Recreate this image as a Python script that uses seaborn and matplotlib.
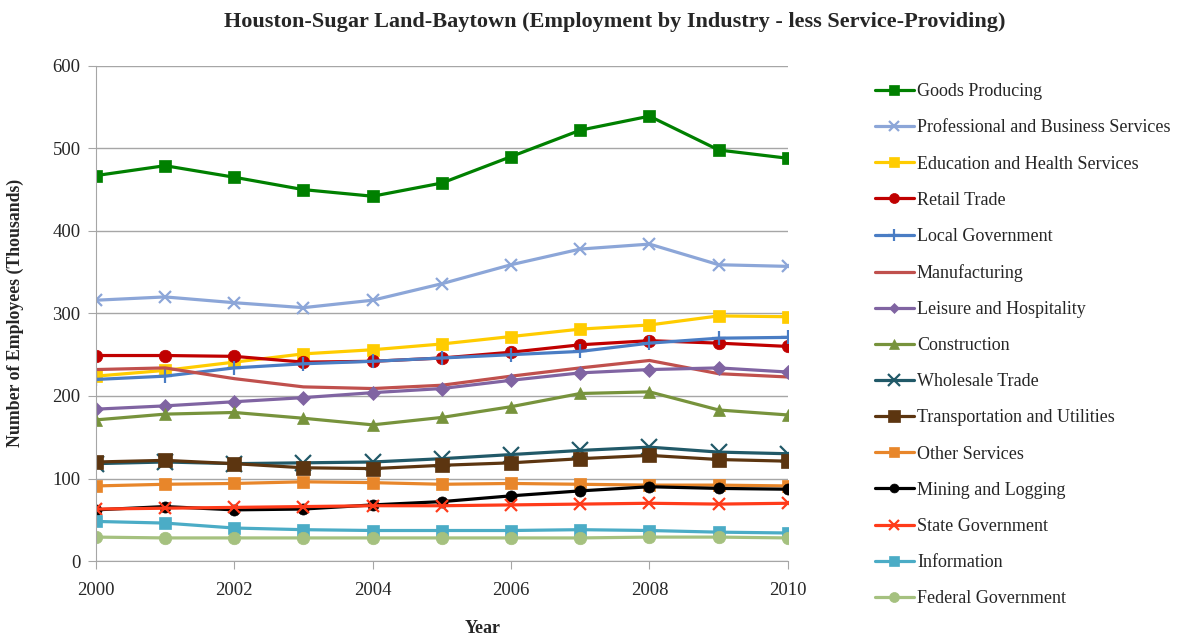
import matplotlib
matplotlib.use('Agg')
import matplotlib.pyplot as plt
import seaborn as sns
import pandas as pd

# ── Data (thousands of employees) ────────────────────────────────────────────
YEARS = list(range(2000, 2011))

goods_producing   = [467, 479, 465, 450, 442, 458, 490, 522, 539, 498, 488]
prof_business     = [316, 320, 313, 307, 316, 336, 359, 378, 384, 359, 357]
education_health  = [224, 231, 241, 251, 256, 263, 272, 281, 286, 297, 296]
retail_trade      = [249, 249, 248, 241, 242, 246, 253, 262, 267, 264, 260]
local_government  = [220, 224, 234, 239, 242, 246, 250, 254, 264, 270, 271]
manufacturing     = [232, 234, 221, 211, 209, 213, 224, 234, 243, 227, 223]
leisure_hosp      = [184, 188, 193, 198, 204, 209, 219, 228, 232, 234, 229]
construction      = [171, 178, 180, 173, 165, 174, 187, 203, 205, 183, 177]
wholesale_trade   = [118, 120, 118, 119, 120, 124, 129, 134, 138, 132, 130]
transport_util    = [120, 122, 118, 113, 112, 116, 119, 124, 128, 123, 121]
other_services    = [91, 93, 94, 96, 95, 93, 94, 93, 92, 92, 91]
mining_logging    = [62, 66, 62, 63, 68, 72, 79, 85, 90, 88, 87]
state_government  = [63, 64, 65, 66, 67, 67, 68, 69, 70, 69, 70]
information       = [48, 46, 40, 38, 37, 37, 37, 38, 37, 35, 34]
federal_govt      = [29, 28, 28, 28, 28, 28, 28, 28, 29, 29, 28]

SERIES = [
    ("Goods Producing", goods_producing),
    ("Professional and Business Services", prof_business),
    ("Education and Health Services", education_health),
    ("Retail Trade", retail_trade),
    ("Local Government", local_government),
    ("Manufacturing", manufacturing),
    ("Leisure and Hospitality", leisure_hosp),
    ("Construction", construction),
    ("Wholesale Trade", wholesale_trade),
    ("Transportation and Utilities", transport_util),
    ("Other Services", other_services),
    ("Mining and Logging", mining_logging),
    ("State Government", state_government),
    ("Information", information),
    ("Federal Government", federal_govt),
]

# ── Styles: (colour, marker, marker size) ────────────────────────────────────
STYLES = {
    "Goods Producing":                    ('#008000', 's', 9),
    "Professional and Business Services": ('#8CA6D8', 'x', 9),
    "Education and Health Services":      ('#FFCC00', 's', 9),
    "Retail Trade":                       ('#C00000', 'o', 9),
    "Local Government":                   ('#4A7DC4', '+', 10),
    "Manufacturing":                      ('#C0504D', '', 0),
    "Leisure and Hospitality":            ('#8064A2', 'D', 7),
    "Construction":                       ('#77933C', '^', 9),
    "Wholesale Trade":                    ('#215968', 'x', 11),
    "Transportation and Utilities":       ('#5C3510', 's', 10),
    "Other Services":                     ('#E8862A', 's', 9),
    "Mining and Logging":                 ('#000000', 'o', 8),
    "State Government":                   ('#FF3B1A', 'x', 9),
    "Information":                        ('#4BACC6', 's', 9),
    "Federal Government":                 ('#A5C17F', 'o', 9),
}

df = pd.DataFrame(
    [(name, yr, v) for name, vals in SERIES for yr, v in zip(YEARS, vals)],
    columns=['industry', 'year', 'employees'],
)

# ── Plot ─────────────────────────────────────────────────────────────────────
sns.set_style('white')
plt.rcParams['font.family'] = ['Liberation Serif', 'DejaVu Serif']

fig = plt.figure(figsize=(11.83, 6.39), dpi=100)
ax = fig.add_axes([0.081, 0.122, 0.585, 0.775])

for name, _ in SERIES:
    color, marker, ms = STYLES[name]
    sub = df[df['industry'] == name]
    sns.lineplot(data=sub, x='year', y='employees', ax=ax, color=color,
                 marker=marker if marker else None, markersize=ms,
                 markeredgecolor=color, markeredgewidth=1.6 if marker in 'x+' else 0.5,
                 linewidth=2.3, label=name, legend=False)

ax.set_xlim(2000, 2010)
ax.set_ylim(0, 600)
ax.set_xticks(range(2000, 2011, 2))
ax.set_yticks(range(0, 601, 100))
ax.yaxis.grid(True, color='#A6A6A6', linewidth=1)
ax.xaxis.grid(False)
for s in ['top', 'right']:
    ax.spines[s].set_visible(False)
for s in ['left', 'bottom']:
    ax.spines[s].set_color('#A6A6A6')
ax.tick_params(axis='x', length=6, color='#A6A6A6', direction='out', bottom=True,
               labelsize=13.5, pad=9)
ax.tick_params(axis='y', length=6, color='#A6A6A6', direction='out', left=True,
               labelsize=13.5, pad=5)
ax.set_xlabel('')
ax.set_ylabel('')

fig.text(0.52, 0.966, 'Houston-Sugar Land-Baytown (Employment by Industry - less Service-Providing)',
         ha='center', va='center', fontsize=16, fontweight='bold')
fig.text(0.013, 0.51, 'Number of Employees (Thousands)', rotation=90,
         ha='center', va='center', fontsize=12.8, fontweight='bold')
fig.text(0.408, 0.017, 'Year', ha='center', va='center', fontsize=13, fontweight='bold')

handles, labels = ax.get_legend_handles_labels()
fig.legend(handles, labels, loc='upper left', bbox_to_anchor=(0.7255, 0.895),
           frameon=False, fontsize=13, labelspacing=1.06, handlelength=2.2,
           handletextpad=0.15, markerscale=0.8)

plt.savefig('out.png', dpi=100)
plt.close()
